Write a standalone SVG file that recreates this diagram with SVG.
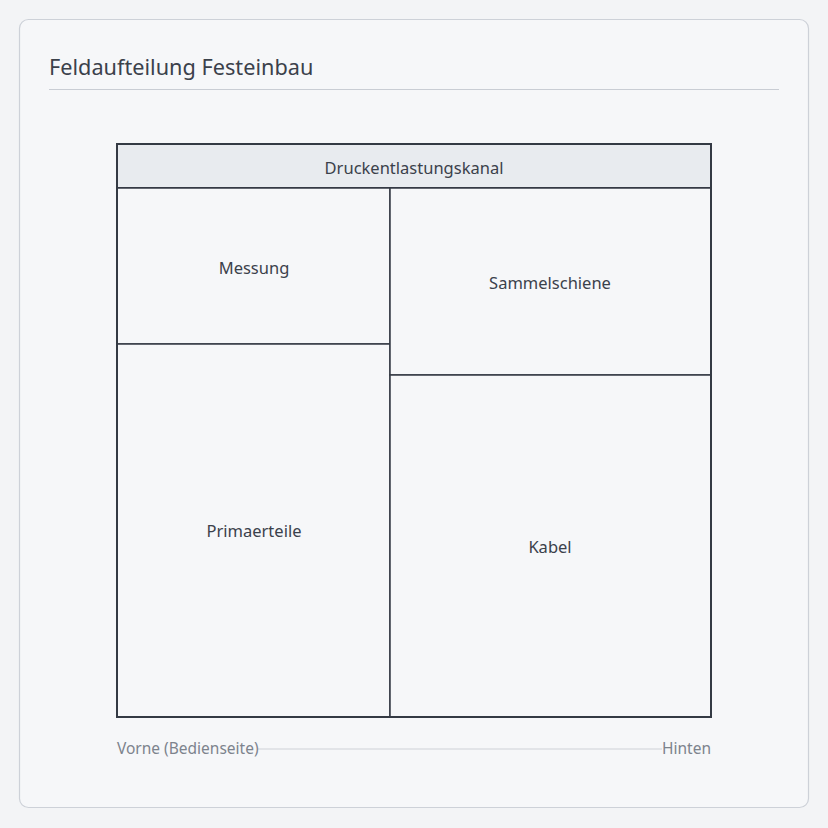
<svg xmlns="http://www.w3.org/2000/svg" width="828" height="828" viewBox="0 0 828 828">
<style>
text{font-family:"Noto Sans","Open Sans","Liberation Sans",sans-serif;}
.lbl{font-size:16.5px;fill:#3b414b;text-anchor:middle;dominant-baseline:central;}
.cell{fill:#f6f7f9;stroke:#343a44;stroke-width:1.5;}
.axis{font-size:15.5px;fill:#7d838d;dominant-baseline:central;}
</style>
<rect x="0" y="0" width="828" height="828" fill="#f3f4f6"/>
<rect x="19.5" y="19.5" width="789" height="788" rx="9" fill="#f6f7f9" stroke="#cdd1d8" stroke-width="1.2"/>
<text x="49" y="66" font-size="21.7" fill="#3b414b" dominant-baseline="central">Feldaufteilung Festeinbau</text>
<line x1="49" y1="89.5" x2="779" y2="89.5" stroke="#c9cdd4" stroke-width="1.2"/>
<g id="druckentlastungskanal">
<rect x="117" y="144" width="594" height="44" fill="#e8ebef" stroke="#343a44" stroke-width="2"/>
<text class="lbl" x="414" y="167">Druckentlastungskanal</text>
</g>
<g id="messung">
<rect class="cell" x="117" y="188" width="273" height="156"/>
<text class="lbl" x="254" y="267">Messung</text>
</g>
<g id="primaerteile">
<rect class="cell" x="117" y="344" width="273" height="373"/>
<text class="lbl" x="254" y="530">Primaerteile</text>
</g>
<g id="sammelschiene">
<rect class="cell" x="390" y="188" width="321" height="187"/>
<text class="lbl" x="550" y="282">Sammelschiene</text>
</g>
<g id="kabel">
<rect class="cell" x="390" y="375" width="321" height="342"/>
<text class="lbl" x="550" y="546">Kabel</text>
</g>
<rect x="117" y="144" width="594" height="573" fill="none" stroke="#343a44" stroke-width="2"/>
<g id="connectors">
<line x1="258" y1="749" x2="662" y2="749" stroke="#cdd1d8" stroke-width="1.2"/>
</g>
<text class="axis" x="117" y="748">Vorne (Bedienseite)</text>
<text class="axis" x="711" y="748" text-anchor="end">Hinten</text>
</svg>
